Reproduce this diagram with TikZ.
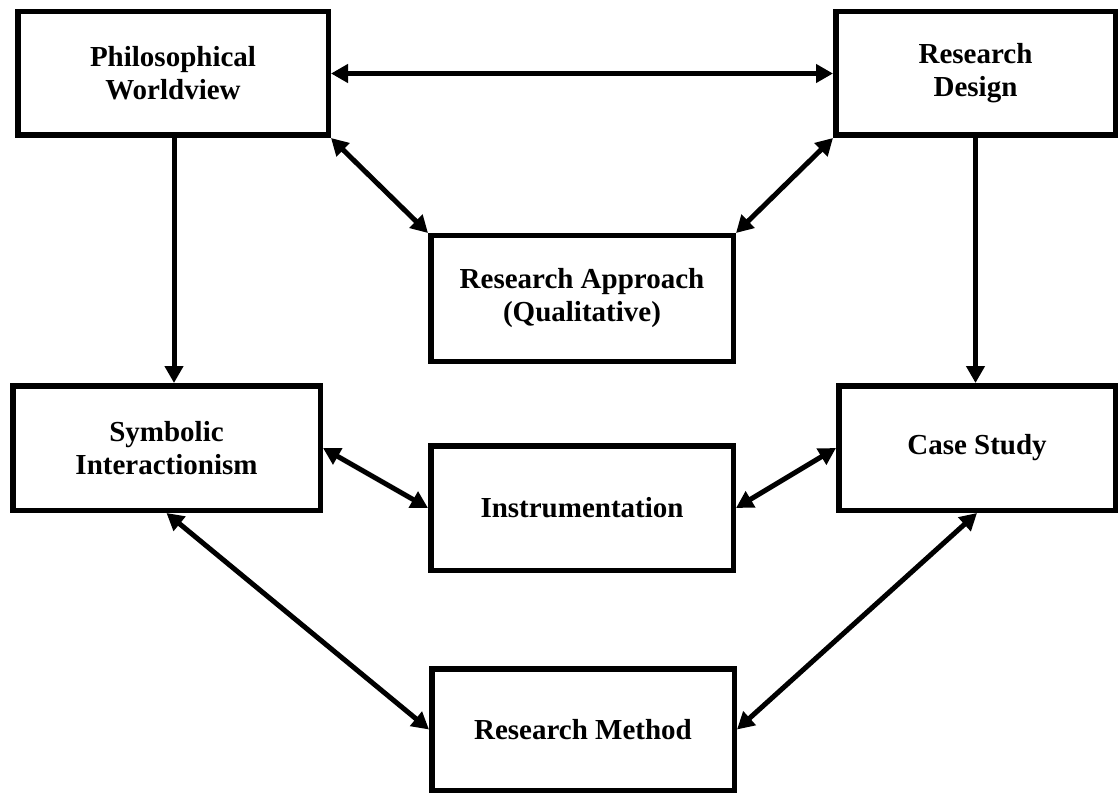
\documentclass[tikz,border=0pt]{standalone}
\usepackage{fontspec}
\setmainfont{Liberation Serif}
\usetikzlibrary{arrows.meta}
\begin{document}
\begin{tikzpicture}[x=1pt,y=-1pt,
  box/.style={draw=black, line width=5.5pt, fill=white, align=center,
    inner sep=0pt, font=\bfseries\fontsize{29}{33}\selectfont},
  link/.style={line width=5pt, -{Triangle[length=17pt,width=18pt]}},
  biglink/.style={line width=5pt, {Triangle[length=17pt,width=18pt]}-{Triangle[length=17pt,width=18pt]}}]
\useasboundingbox (0,0) rectangle (1118,794);

% boxes
\node[box, minimum width=310.5pt, minimum height=123.5pt] (pw) at (173,73.5) {Philosophical\\Worldview};
\node[box, minimum width=279.5pt, minimum height=123.5pt] (rd) at (975.5,73.5) {Research\\Design};
\node[box, minimum width=302.5pt, minimum height=125.5pt] (ra) at (582,298.5) {Research Approach\\(Qualitative)};
\node[box, minimum width=307.5pt, minimum height=124.5pt] (si) at (166.5,448) {Symbolic\\Interactionism};
\node[box, minimum width=302.5pt, minimum height=124.5pt] (in) at (582,508) {Instrumentation};
\node[box, minimum width=276.5pt, minimum height=124.5pt] (cs) at (977,448) {Case Study};
\node[box, minimum width=302.5pt, minimum height=121.5pt] (rm) at (583,729.5) {Research Method};

% connectors
\draw[biglink] (pw.east) -- (rd.west);
\draw[link] ([xshift=1pt]pw.south) -- ([xshift=1pt]pw.south |- si.north);
\draw[link] (rd.south) -- (rd.south |- cs.north);
\draw[biglink] (pw.south east) -- (ra.north west);
\draw[biglink] (rd.south west) -- (ra.north east);
\draw[biglink] (si.east) -- (in.west);
\draw[biglink] (in.east) -- (cs.west);
\draw[biglink] (si.south) -- (rm.west);
\draw[biglink] (cs.south) -- (rm.east);
\end{tikzpicture}
\end{document}
